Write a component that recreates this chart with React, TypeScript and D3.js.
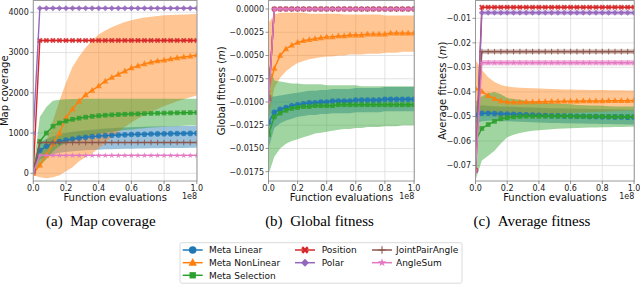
import React from 'react';
import * as d3 from 'd3';

// ---------- data ----------
const X_EVALS = [0, 4e6, 8e6, 1.2e7, 1.6e7, 2e7, 2.4e7, 2.8e7, 3.2e7, 3.6e7, 4e7, 4.4e7, 4.8e7, 5.2e7, 5.6e7, 6e7, 6.4e7, 6.8e7, 7.2e7, 7.6e7, 8e7, 8.4e7, 8.8e7, 9.2e7, 9.6e7, 1e8];

const SERIES_NAMES = ['Meta Linear', 'Meta NonLinear', 'Meta Selection', 'Position', 'Polar', 'JointPairAngle', 'AngleSum'];

const X_TICKS = [0, 2e7, 4e7, 6e7, 8e7, 1e8];
const MAP_TICKS = [0, 1000, 2000, 3000, 4000];
const GLOBAL_TICKS = [0, -0.0025, -0.005, -0.0075, -0.01, -0.0125, -0.015, -0.0175];
const AVG_TICKS = [-0.01, -0.02, -0.03, -0.04, -0.05, -0.06, -0.07];

// (a) Map coverage
const MAP_LINEAR_MEAN = [100, 570, 670, 740, 790, 825, 850, 875, 895, 910, 925, 935, 945, 952, 958, 963, 968, 972, 976, 979, 982, 985, 987, 989, 991, 993];
const MAP_LINEAR_LO = [50, 350, 420, 470, 510, 530, 545, 560, 570, 580, 588, 595, 600, 605, 610, 613, 616, 619, 622, 624, 626, 628, 630, 631, 632, 633];
const MAP_LINEAR_HI = [150, 750, 850, 920, 970, 1000, 1030, 1050, 1070, 1085, 1100, 1110, 1120, 1130, 1138, 1145, 1150, 1155, 1160, 1165, 1168, 1171, 1174, 1176, 1178, 1180];
const MAP_NONLINEAR_MEAN = [0, 200, 450, 730, 1000, 1380, 1600, 1790, 1950, 2060, 2170, 2290, 2380, 2460, 2540, 2620, 2670, 2720, 2760, 2790, 2810, 2840, 2870, 2890, 2910, 2940];
const MAP_NONLINEAR_LO = [-50, -100, -120, -100, -50, 50, 150, 300, 400, 500, 620, 760, 900, 1030, 1150, 1260, 1360, 1450, 1530, 1600, 1670, 1730, 1790, 1840, 1890, 1930];
const MAP_NONLINEAR_HI = [50, 500, 800, 1300, 1800, 2250, 2650, 2900, 3120, 3300, 3450, 3550, 3630, 3700, 3760, 3800, 3840, 3870, 3890, 3910, 3925, 3935, 3942, 3948, 3952, 3955];
const MAP_SELECTION_MEAN = [50, 790, 1000, 1170, 1250, 1300, 1340, 1370, 1395, 1415, 1430, 1442, 1452, 1460, 1467, 1473, 1478, 1483, 1488, 1492, 1496, 1499, 1502, 1505, 1508, 1510];
const MAP_SELECTION_LO = [0, 180, 350, 540, 670, 750, 820, 870, 910, 950, 980, 1010, 1035, 1055, 1075, 1090, 1105, 1120, 1135, 1145, 1155, 1165, 1172, 1180, 1186, 1190];
const MAP_SELECTION_HI = [100, 1400, 1650, 1800, 1830, 1840, 1845, 1848, 1850, 1850, 1850, 1850, 1850, 1850, 1850, 1850, 1850, 1850, 1850, 1850, 1850, 1850, 1850, 1850, 1850, 1850];
const MAP_POSITION_MEAN = [50, 3300, 3300, 3300, 3300, 3300, 3300, 3300, 3300, 3300, 3300, 3300, 3300, 3300, 3300, 3300, 3300, 3300, 3300, 3300, 3300, 3300, 3300, 3300, 3300, 3300];
const MAP_POSITION_LO = [0, 3285, 3285, 3285, 3285, 3285, 3285, 3285, 3285, 3285, 3285, 3285, 3285, 3285, 3285, 3285, 3285, 3285, 3285, 3285, 3285, 3285, 3285, 3285, 3285, 3285];
const MAP_POSITION_HI = [100, 3315, 3315, 3315, 3315, 3315, 3315, 3315, 3315, 3315, 3315, 3315, 3315, 3315, 3315, 3315, 3315, 3315, 3315, 3315, 3315, 3315, 3315, 3315, 3315, 3315];
const MAP_POLAR_MEAN = [1000, 4100, 4100, 4100, 4100, 4100, 4100, 4100, 4100, 4100, 4100, 4100, 4100, 4100, 4100, 4100, 4100, 4100, 4100, 4100, 4100, 4100, 4100, 4100, 4100, 4100];
const MAP_POLAR_LO = [980, 4085, 4085, 4085, 4085, 4085, 4085, 4085, 4085, 4085, 4085, 4085, 4085, 4085, 4085, 4085, 4085, 4085, 4085, 4085, 4085, 4085, 4085, 4085, 4085, 4085];
const MAP_POLAR_HI = [1020, 4115, 4115, 4115, 4115, 4115, 4115, 4115, 4115, 4115, 4115, 4115, 4115, 4115, 4115, 4115, 4115, 4115, 4115, 4115, 4115, 4115, 4115, 4115, 4115, 4115];
const MAP_JOINT_MEAN = [30, 765, 765, 765, 765, 765, 765, 765, 765, 765, 765, 765, 765, 765, 765, 765, 765, 765, 765, 765, 765, 765, 765, 765, 765, 765];
const MAP_JOINT_LO = [0, 750, 750, 750, 750, 750, 750, 750, 750, 750, 750, 750, 750, 750, 750, 750, 750, 750, 750, 750, 750, 750, 750, 750, 750, 750];
const MAP_JOINT_HI = [60, 780, 780, 780, 780, 780, 780, 780, 780, 780, 780, 780, 780, 780, 780, 780, 780, 780, 780, 780, 780, 780, 780, 780, 780, 780];
const MAP_ANGLESUM_MEAN = [20, 445, 445, 445, 445, 445, 445, 445, 445, 445, 445, 445, 445, 445, 445, 445, 445, 445, 445, 445, 445, 445, 445, 445, 445, 445];
const MAP_ANGLESUM_LO = [0, 435, 435, 435, 435, 435, 435, 435, 435, 435, 435, 435, 435, 435, 435, 435, 435, 435, 435, 435, 435, 435, 435, 435, 435, 435];
const MAP_ANGLESUM_HI = [40, 455, 455, 455, 455, 455, 455, 455, 455, 455, 455, 455, 455, 455, 455, 455, 455, 455, 455, 455, 455, 455, 455, 455, 455, 455];

// (b) Global fitness
const GLOBAL_LINEAR_MEAN = [-0.0122, -0.0111, -0.0108, -0.0106, -0.0104, -0.0103, -0.0102, -0.0101, -0.0101, -0.0100, -0.0100, -0.0099, -0.0099, -0.0099, -0.0099, -0.0098, -0.0098, -0.0098, -0.0098, -0.0098, -0.0097, -0.0097, -0.0097, -0.0097, -0.0097, -0.0097];
const GLOBAL_LINEAR_LO = [-0.0150, -0.0128, -0.0123, -0.0120, -0.0118, -0.0116, -0.0115, -0.0114, -0.0114, -0.0113, -0.0113, -0.0112, -0.0112, -0.0112, -0.0112, -0.0111, -0.0111, -0.0111, -0.0111, -0.0111, -0.0110, -0.0110, -0.0110, -0.0110, -0.0110, -0.0110];
const GLOBAL_LINEAR_HI = [-0.0094, -0.0094, -0.0093, -0.0092, -0.0091, -0.0090, -0.0089, -0.0088, -0.0088, -0.0087, -0.0087, -0.0086, -0.0086, -0.0086, -0.0086, -0.0085, -0.0085, -0.0085, -0.0085, -0.0085, -0.0084, -0.0084, -0.0084, -0.0084, -0.0084, -0.0084];
const GLOBAL_NONLINEAR_MEAN = [-0.0087, -0.0064, -0.0050, -0.0043, -0.0039, -0.0036, -0.0034, -0.0033, -0.0032, -0.0031, -0.0030, -0.0030, -0.0029, -0.0029, -0.0028, -0.0028, -0.0028, -0.0027, -0.0027, -0.0027, -0.0027, -0.0026, -0.0026, -0.0026, -0.0026, -0.0026];
const GLOBAL_NONLINEAR_LO = [-0.0118, -0.0085, -0.0074, -0.0067, -0.0062, -0.0058, -0.0056, -0.0054, -0.0053, -0.0052, -0.0051, -0.0051, -0.0050, -0.0050, -0.0049, -0.0049, -0.0049, -0.0048, -0.0048, -0.0048, -0.0047, -0.0047, -0.0047, -0.0046, -0.0046, -0.0046];
const GLOBAL_NONLINEAR_HI = [-0.0015, -0.0006, -0.0004, -0.0004, -0.0004, -0.0004, -0.0004, -0.0005, -0.0005, -0.0005, -0.0005, -0.0005, -0.0005, -0.0006, -0.0006, -0.0006, -0.0006, -0.0006, -0.0006, -0.0006, -0.0007, -0.0007, -0.0007, -0.0007, -0.0007, -0.0007];
const GLOBAL_SELECTION_MEAN = [-0.0135, -0.0116, -0.0112, -0.0109, -0.0107, -0.0106, -0.0105, -0.0105, -0.0104, -0.0104, -0.0104, -0.0104, -0.0103, -0.0103, -0.0103, -0.0103, -0.0103, -0.0103, -0.0103, -0.0103, -0.0103, -0.0103, -0.0103, -0.0103, -0.0103, -0.0103];
const GLOBAL_SELECTION_LO = [-0.0178, -0.0159, -0.0150, -0.0145, -0.0142, -0.0140, -0.0138, -0.0136, -0.0134, -0.0133, -0.0132, -0.0131, -0.0130, -0.0129, -0.0129, -0.0128, -0.0128, -0.0127, -0.0127, -0.0127, -0.0126, -0.0126, -0.0126, -0.0125, -0.0125, -0.0125];
const GLOBAL_SELECTION_HI = [-0.0060, -0.0077, -0.0078, -0.0079, -0.0080, -0.0080, -0.0081, -0.0081, -0.0081, -0.0081, -0.0082, -0.0082, -0.0082, -0.0082, -0.0082, -0.0082, -0.0083, -0.0083, -0.0083, -0.0083, -0.0083, -0.0083, -0.0083, -0.0083, -0.0083, -0.0083];
const GLOBAL_POSITION_MEAN = [-0.0095, 0, 0, 0, 0, 0, 0, 0, 0, 0, 0, 0, 0, 0, 0, 0, 0, 0, 0, 0, 0, 0, 0, 0, 0, 0];
const GLOBAL_POLAR_MEAN = [-0.0098, 0, 0, 0, 0, 0, 0, 0, 0, 0, 0, 0, 0, 0, 0, 0, 0, 0, 0, 0, 0, 0, 0, 0, 0, 0];
const GLOBAL_JOINT_MEAN = [-0.0099, 0, 0, 0, 0, 0, 0, 0, 0, 0, 0, 0, 0, 0, 0, 0, 0, 0, 0, 0, 0, 0, 0, 0, 0, 0];
const GLOBAL_ANGLESUM_MEAN = [-0.0100, 0, 0, 0, 0, 0, 0, 0, 0, 0, 0, 0, 0, 0, 0, 0, 0, 0, 0, 0, 0, 0, 0, 0, 0, 0];

// (c) Average fitness
const AVG_LINEAR_MEAN = [-0.0494, -0.0487, -0.0487, -0.0488, -0.0489, -0.0490, -0.0491, -0.0492, -0.0493, -0.0494, -0.0495, -0.0496, -0.0497, -0.0497, -0.0498, -0.0498, -0.0499, -0.0499, -0.0500, -0.0500, -0.0501, -0.0501, -0.0502, -0.0502, -0.0503, -0.0503];
const AVG_LINEAR_LO = [-0.0530, -0.0520, -0.0518, -0.0518, -0.0519, -0.0520, -0.0521, -0.0522, -0.0523, -0.0524, -0.0525, -0.0526, -0.0527, -0.0527, -0.0528, -0.0528, -0.0529, -0.0529, -0.0530, -0.0530, -0.0531, -0.0531, -0.0532, -0.0532, -0.0533, -0.0533];
const AVG_LINEAR_HI = [-0.0458, -0.0454, -0.0456, -0.0458, -0.0459, -0.0460, -0.0461, -0.0462, -0.0463, -0.0464, -0.0465, -0.0466, -0.0467, -0.0467, -0.0468, -0.0468, -0.0469, -0.0469, -0.0470, -0.0470, -0.0471, -0.0471, -0.0472, -0.0472, -0.0473, -0.0473];
const AVG_NONLINEAR_MEAN = [-0.0386, -0.0398, -0.0415, -0.0428, -0.0437, -0.0441, -0.0442, -0.0442, -0.0441, -0.0441, -0.0440, -0.0440, -0.0439, -0.0439, -0.0438, -0.0438, -0.0438, -0.0437, -0.0437, -0.0437, -0.0437, -0.0436, -0.0436, -0.0436, -0.0436, -0.0435];
const AVG_NONLINEAR_LO = [-0.0500, -0.0486, -0.0490, -0.0496, -0.0502, -0.0504, -0.0503, -0.0501, -0.0498, -0.0496, -0.0494, -0.0492, -0.0490, -0.0489, -0.0487, -0.0486, -0.0485, -0.0484, -0.0483, -0.0482, -0.0481, -0.0480, -0.0479, -0.0478, -0.0477, -0.0476];
const AVG_NONLINEAR_HI = [-0.0270, -0.0310, -0.0340, -0.0360, -0.0372, -0.0378, -0.0381, -0.0383, -0.0384, -0.0385, -0.0386, -0.0387, -0.0388, -0.0389, -0.0390, -0.0390, -0.0391, -0.0391, -0.0392, -0.0392, -0.0392, -0.0393, -0.0393, -0.0393, -0.0394, -0.0394];
const AVG_SELECTION_MEAN = [-0.0600, -0.0549, -0.0533, -0.0520, -0.0510, -0.0505, -0.0502, -0.0500, -0.0499, -0.0499, -0.0499, -0.0499, -0.0499, -0.0499, -0.0499, -0.0499, -0.0500, -0.0500, -0.0500, -0.0500, -0.0500, -0.0501, -0.0501, -0.0501, -0.0501, -0.0501];
const AVG_SELECTION_LO = [-0.0760, -0.0680, -0.0660, -0.0640, -0.0610, -0.0585, -0.0575, -0.0568, -0.0562, -0.0558, -0.0556, -0.0554, -0.0552, -0.0550, -0.0549, -0.0548, -0.0547, -0.0546, -0.0545, -0.0545, -0.0544, -0.0544, -0.0543, -0.0543, -0.0542, -0.0542];
const AVG_SELECTION_HI = [-0.0440, -0.0418, -0.0406, -0.0400, -0.0410, -0.0425, -0.0429, -0.0432, -0.0436, -0.0440, -0.0442, -0.0444, -0.0446, -0.0448, -0.0449, -0.0450, -0.0453, -0.0454, -0.0455, -0.0455, -0.0456, -0.0458, -0.0459, -0.0459, -0.0460, -0.0460];
const AVG_POSITION_MEAN = [-0.0720, -0.0055, -0.0055, -0.0055, -0.0055, -0.0055, -0.0055, -0.0055, -0.0055, -0.0055, -0.0055, -0.0055, -0.0055, -0.0055, -0.0055, -0.0055, -0.0055, -0.0055, -0.0055, -0.0055, -0.0055, -0.0055, -0.0055, -0.0055, -0.0055, -0.0055];
const AVG_POSITION_LO = [-0.0722, -0.0059, -0.0059, -0.0059, -0.0059, -0.0059, -0.0059, -0.0059, -0.0059, -0.0059, -0.0059, -0.0059, -0.0059, -0.0059, -0.0059, -0.0059, -0.0059, -0.0059, -0.0059, -0.0059, -0.0059, -0.0059, -0.0059, -0.0059, -0.0059, -0.0059];
const AVG_POSITION_HI = [-0.0718, -0.0051, -0.0051, -0.0051, -0.0051, -0.0051, -0.0051, -0.0051, -0.0051, -0.0051, -0.0051, -0.0051, -0.0051, -0.0051, -0.0051, -0.0051, -0.0051, -0.0051, -0.0051, -0.0051, -0.0051, -0.0051, -0.0051, -0.0051, -0.0051, -0.0051];
const AVG_POLAR_MEAN = [-0.0722, -0.0077, -0.0077, -0.0077, -0.0077, -0.0077, -0.0077, -0.0077, -0.0077, -0.0077, -0.0077, -0.0077, -0.0077, -0.0077, -0.0077, -0.0077, -0.0077, -0.0077, -0.0077, -0.0077, -0.0077, -0.0077, -0.0077, -0.0077, -0.0077, -0.0077];
const AVG_POLAR_LO = [-0.0724, -0.0086, -0.0086, -0.0086, -0.0086, -0.0086, -0.0086, -0.0086, -0.0086, -0.0086, -0.0086, -0.0086, -0.0086, -0.0086, -0.0086, -0.0086, -0.0086, -0.0086, -0.0086, -0.0086, -0.0086, -0.0086, -0.0086, -0.0086, -0.0086, -0.0086];
const AVG_POLAR_HI = [-0.0720, -0.0068, -0.0068, -0.0068, -0.0068, -0.0068, -0.0068, -0.0068, -0.0068, -0.0068, -0.0068, -0.0068, -0.0068, -0.0068, -0.0068, -0.0068, -0.0068, -0.0068, -0.0068, -0.0068, -0.0068, -0.0068, -0.0068, -0.0068, -0.0068, -0.0068];
const AVG_JOINT_MEAN = [-0.0720, -0.0236, -0.0236, -0.0236, -0.0236, -0.0236, -0.0236, -0.0236, -0.0236, -0.0236, -0.0236, -0.0236, -0.0236, -0.0236, -0.0236, -0.0236, -0.0236, -0.0236, -0.0236, -0.0236, -0.0236, -0.0236, -0.0236, -0.0236, -0.0236, -0.0236];
const AVG_JOINT_LO = [-0.0722, -0.0245, -0.0245, -0.0245, -0.0245, -0.0245, -0.0245, -0.0245, -0.0245, -0.0245, -0.0245, -0.0245, -0.0245, -0.0245, -0.0245, -0.0245, -0.0245, -0.0245, -0.0245, -0.0245, -0.0245, -0.0245, -0.0245, -0.0245, -0.0245, -0.0245];
const AVG_JOINT_HI = [-0.0718, -0.0227, -0.0227, -0.0227, -0.0227, -0.0227, -0.0227, -0.0227, -0.0227, -0.0227, -0.0227, -0.0227, -0.0227, -0.0227, -0.0227, -0.0227, -0.0227, -0.0227, -0.0227, -0.0227, -0.0227, -0.0227, -0.0227, -0.0227, -0.0227, -0.0227];
const AVG_ANGLESUM_MEAN = [-0.0721, -0.0281, -0.0281, -0.0281, -0.0281, -0.0281, -0.0281, -0.0281, -0.0281, -0.0281, -0.0281, -0.0281, -0.0281, -0.0281, -0.0281, -0.0281, -0.0281, -0.0281, -0.0281, -0.0281, -0.0281, -0.0281, -0.0281, -0.0281, -0.0281, -0.0281];
const AVG_ANGLESUM_LO = [-0.0723, -0.0292, -0.0292, -0.0292, -0.0292, -0.0292, -0.0292, -0.0292, -0.0292, -0.0292, -0.0292, -0.0292, -0.0292, -0.0292, -0.0292, -0.0292, -0.0292, -0.0292, -0.0292, -0.0292, -0.0292, -0.0292, -0.0292, -0.0292, -0.0292, -0.0292];
const AVG_ANGLESUM_HI = [-0.0719, -0.0270, -0.0270, -0.0270, -0.0270, -0.0270, -0.0270, -0.0270, -0.0270, -0.0270, -0.0270, -0.0270, -0.0270, -0.0270, -0.0270, -0.0270, -0.0270, -0.0270, -0.0270, -0.0270, -0.0270, -0.0270, -0.0270, -0.0270, -0.0270, -0.0270];

// ---------- styles ----------
const COLORS = ['#1f77b4', '#ff7f0e', '#2ca02c', '#d62728', '#9467bd', '#8c564b', '#e377c2'];
const MARKERS = ['circle', 'triangle', 'square', 'x', 'diamond', 'plus', 'star'];
const SANS = 'DejaVu Sans, sans-serif';
const SERIF = 'Liberation Serif, Times New Roman, serif';

type Series = { mean: number[]; lo?: number[]; hi?: number[] };

const PANELS = [
  {
    left: 33.3, right: 197, xEnd: 196.8, top: 0.5, bottom: 181,
    yDomain: [0, 4000], yRange: [173.3, 12.3], ticks: MAP_TICKS, fmt: d3.format('d'),
    ylabel: 'Map coverage', italicUnit: false, ylabelX: 8,
    caption: '(a)', captionText: 'Map coverage', captionX: 100.8,
    series: [
      { mean: MAP_LINEAR_MEAN, lo: MAP_LINEAR_LO, hi: MAP_LINEAR_HI },
      { mean: MAP_NONLINEAR_MEAN, lo: MAP_NONLINEAR_LO, hi: MAP_NONLINEAR_HI },
      { mean: MAP_SELECTION_MEAN, lo: MAP_SELECTION_LO, hi: MAP_SELECTION_HI },
      { mean: MAP_POSITION_MEAN, lo: MAP_POSITION_LO, hi: MAP_POSITION_HI },
      { mean: MAP_POLAR_MEAN, lo: MAP_POLAR_LO, hi: MAP_POLAR_HI },
      { mean: MAP_JOINT_MEAN, lo: MAP_JOINT_LO, hi: MAP_JOINT_HI },
      { mean: MAP_ANGLESUM_MEAN, lo: MAP_ANGLESUM_LO, hi: MAP_ANGLESUM_HI },
    ] as Series[],
  },
  {
    left: 268.5, right: 414.3, xEnd: 414, top: 0.5, bottom: 181,
    yDomain: [0, -0.0175], yRange: [9, 171.7], ticks: GLOBAL_TICKS, fmt: d3.format('.4f'),
    ylabel: 'Global fitness', italicUnit: true, ylabelX: 224.5,
    caption: '(b)', captionText: 'Global fitness', captionX: 319.5,
    series: [
      { mean: GLOBAL_LINEAR_MEAN, lo: GLOBAL_LINEAR_LO, hi: GLOBAL_LINEAR_HI },
      { mean: GLOBAL_NONLINEAR_MEAN, lo: GLOBAL_NONLINEAR_LO, hi: GLOBAL_NONLINEAR_HI },
      { mean: GLOBAL_SELECTION_MEAN, lo: GLOBAL_SELECTION_LO, hi: GLOBAL_SELECTION_HI },
      { mean: GLOBAL_POSITION_MEAN },
      { mean: GLOBAL_POLAR_MEAN },
      { mean: GLOBAL_JOINT_MEAN },
      { mean: GLOBAL_ANGLESUM_MEAN },
    ] as Series[],
  },
  {
    left: 475.5, right: 634.3, xEnd: 634, top: 0.5, bottom: 181,
    yDomain: [-0.01, -0.07], yRange: [18.3, 165.5], ticks: AVG_TICKS, fmt: d3.format('.2f'),
    ylabel: 'Average fitness', italicUnit: true, ylabelX: 445.5,
    caption: '(c)', captionText: 'Average fitness', captionX: 532,
    series: [
      { mean: AVG_LINEAR_MEAN, lo: AVG_LINEAR_LO, hi: AVG_LINEAR_HI },
      { mean: AVG_NONLINEAR_MEAN, lo: AVG_NONLINEAR_LO, hi: AVG_NONLINEAR_HI },
      { mean: AVG_SELECTION_MEAN, lo: AVG_SELECTION_LO, hi: AVG_SELECTION_HI },
      { mean: AVG_POSITION_MEAN, lo: AVG_POSITION_LO, hi: AVG_POSITION_HI },
      { mean: AVG_POLAR_MEAN, lo: AVG_POLAR_LO, hi: AVG_POLAR_HI },
      { mean: AVG_JOINT_MEAN, lo: AVG_JOINT_LO, hi: AVG_JOINT_HI },
      { mean: AVG_ANGLESUM_MEAN, lo: AVG_ANGLESUM_LO, hi: AVG_ANGLESUM_HI },
    ] as Series[],
  },
];

function Marker({ kind, x, y, s, color, opacity = 1 }: { kind: string; x: number; y: number; s: number; color: string; opacity?: number }) {
  const t = `translate(${x},${y})`;
  switch (kind) {
    case 'circle':
      return <circle cx={x} cy={y} r={s * 0.5} fill={color} opacity={opacity} />;
    case 'triangle':
      return <path transform={t} d={`M0,${-0.62 * s}L${0.56 * s},${0.42 * s}L${-0.56 * s},${0.42 * s}Z`} fill={color} opacity={opacity} />;
    case 'square':
      return <rect x={x - 0.42 * s} y={y - 0.42 * s} width={0.84 * s} height={0.84 * s} fill={color} opacity={opacity} />;
    case 'x':
      return <path transform={`${t} rotate(45)`} d={d3.symbol(d3.symbolCross, s * s * 0.62)() as string} fill={color} opacity={opacity} />;
    case 'diamond':
      return <rect transform={`${t} rotate(45)`} x={-0.38 * s} y={-0.38 * s} width={0.76 * s} height={0.76 * s} fill={color} opacity={opacity} />;
    case 'plus':
      return (
        <g transform={t} stroke={color} strokeWidth={1.1} opacity={opacity}>
          <line x1={-0.5 * s} x2={0.5 * s} y1={0} y2={0} />
          <line x1={0} x2={0} y1={-0.5 * s} y2={0.5 * s} />
        </g>
      );
    case 'star':
      return <path transform={t} d={d3.symbol(d3.symbolStar, s * s * 0.38)() as string} fill={color} opacity={opacity} />;
    default:
      return null;
  }
}

function Panel({ p, idx }: { p: (typeof PANELS)[number]; idx: number }) {
  const x = d3.scaleLinear().domain([0, 1e8]).range([p.left, p.xEnd]);
  const y = d3.scaleLinear().domain(p.yDomain).range(p.yRange);
  const clipId = `clip-${idx}`;
  const line = d3.line<number>().x((_, i) => x(X_EVALS[i])).y((d) => y(d));
  const cx = (p.left + p.right) / 2;
  const cy = (p.top + p.bottom) / 2;
  const xfmt = d3.format('.1f');
  return (
    <g>
      <defs>
        <clipPath id={clipId}>
          <rect x={p.left} y={p.top} width={p.right - p.left} height={p.bottom - p.top} />
        </clipPath>
      </defs>
      <rect x={p.left} y={p.top} width={p.right - p.left} height={p.bottom - p.top} fill="#fff" />
      <g stroke="#dcdcdc" strokeWidth={0.8}>
        {X_TICKS.map((t) => (
          <line key={`gx${t}`} x1={x(t)} x2={x(t)} y1={p.top} y2={p.bottom} />
        ))}
        {p.ticks.map((t) => (
          <line key={`gy${t}`} x1={p.left} x2={p.right} y1={y(t)} y2={y(t)} />
        ))}
      </g>
      <g clipPath={`url(#${clipId})`}>
        {p.series.map((s, si) => {
          if (!s.lo || !s.hi) return null;
          const area = d3
            .area<number>()
            .x((_, i) => x(X_EVALS[i]))
            .y0((_, i) => y(s.lo![i]))
            .y1((_, i) => y(s.hi![i]));
          return <path key={`b${si}`} d={area(s.mean) as string} fill={COLORS[si]} fillOpacity={0.45} />;
        })}
        {p.series.map((s, si) => (
          <g key={`l${si}`}>
            <path d={line(s.mean) as string} fill="none" stroke={COLORS[si]} strokeWidth={1.4} />
            {s.mean.map((v, i) => (
              <Marker key={i} kind={MARKERS[si]} x={x(X_EVALS[i])} y={y(v)} s={5.6} color={COLORS[si]} opacity={0.85} />
            ))}
          </g>
        ))}
      </g>
      <rect x={p.left} y={p.top} width={p.right - p.left} height={p.bottom - p.top} fill="none" stroke="#9a9a9a" strokeWidth={1} />
      <g fontFamily={SANS} fontSize={8} fill="#222">
        {X_TICKS.map((t) => (
          <g key={`xt${t}`}>
            <line x1={x(t)} x2={x(t)} y1={p.bottom} y2={p.bottom + 3} stroke="#777" strokeWidth={0.8} />
            <text x={x(t)} y={p.bottom + 9.5} textAnchor="middle">{xfmt(t / 1e8)}</text>
          </g>
        ))}
        <text x={p.right} y={p.bottom + 17.5} textAnchor="end">1e8</text>
        {p.ticks.map((t) => (
          <g key={`yt${t}`}>
            <line x1={p.left - 3} x2={p.left} y1={y(t)} y2={y(t)} stroke="#777" strokeWidth={0.8} />
            <text x={p.left - 4.5} y={y(t) + 2.9} textAnchor="end">{p.fmt(t)}</text>
          </g>
        ))}
      </g>
      <text x={cx} y={p.bottom + 19.8} textAnchor="middle" fontFamily={SANS} fontSize={10} fill="#111">
        Function evaluations
      </text>
      <text transform={`translate(${p.ylabelX},${cy}) rotate(-90)`} textAnchor="middle" fontFamily={SANS} fontSize={10} fill="#111">
        {p.ylabel}
        {p.italicUnit ? ' (' : ''}
        {p.italicUnit ? <tspan fontStyle="italic">m</tspan> : null}
        {p.italicUnit ? ')' : ''}
      </text>
      <text x={p.captionX} y={226} textAnchor="middle" fontFamily={SERIF} fontSize={15} fill="#000">
        {p.caption}
        {'\u2002'}
        {p.captionText}
      </text>
    </g>
  );
}

const LEGEND_COLS = [
  { mx: 192.7, tx: 209 },
  { mx: 305, tx: 321.7 },
  { mx: 382, tx: 396 },
];
const LEGEND_ROWS = [250, 262.7, 275.3];
const LEGEND_LAYOUT = [[0, 0], [0, 1], [0, 2], [1, 0], [1, 1], [2, 0], [2, 1]];

function Legend() {
  return (
    <g>
      <rect x={180} y={242.7} width={282} height={40.5} rx={2} fill="#fff" stroke="#d0d0d0" strokeWidth={0.8} />
      {SERIES_NAMES.map((name, i) => {
        const [c, r] = LEGEND_LAYOUT[i];
        const mx = LEGEND_COLS[c].mx;
        const yy = LEGEND_ROWS[r];
        return (
          <g key={name}>
            <line x1={mx - 10} x2={mx + 10} y1={yy} y2={yy} stroke={COLORS[i]} strokeWidth={1.5} />
            <Marker kind={MARKERS[i]} x={mx} y={yy} s={7.5} color={COLORS[i]} />
            <text x={LEGEND_COLS[c].tx} y={yy + 3.2} fontFamily={SANS} fontSize={9} fill="#111">
              {name}
            </text>
          </g>
        );
      })}
    </g>
  );
}

export default function App() {
  return (
    <svg width={640} height={286} viewBox="0 0 640 286" style={{ position: 'absolute', left: 0, top: 0, background: '#fff' }}>
      <rect x={0} y={0} width={640} height={286} fill="#fff" />
      {PANELS.map((p, i) => (
        <Panel key={i} p={p} idx={i} />
      ))}
      <Legend />
    </svg>
  );
}
